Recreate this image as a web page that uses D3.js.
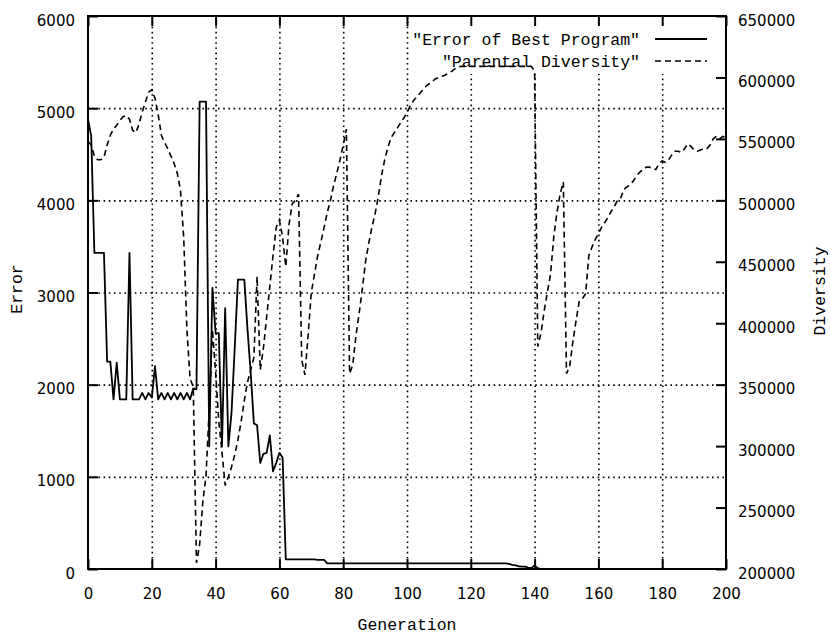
<!DOCTYPE html>
<html lang="en">
<head>
<meta charset="UTF-8"/>
<title>Error of Best Program / Parental Diversity</title>
<script src="https://d3js.org/d3.v7.min.js" charset="utf-8"></script>
<style type="text/css">
    body { margin: 0; background: #fff; }
    svg { display: block; }
    .tick text { font-family: "DejaVu Sans", sans-serif; font-size: 15px; fill: #000; }
    .axis path, .grid path { display: none; }
    .axis line { stroke: #000; stroke-width: 2px; }
    .grid line { stroke: #000; stroke-width: 1.6px; stroke-dasharray: 1.6 3.6; }
    .label { font-family: "Liberation Mono", monospace; font-size: 16.5px; fill: #000; }
    path.error { fill: none; stroke: #000; stroke-width: 1.8px; stroke-linejoin: round; }
    path.diversity { fill: none; stroke: #000; stroke-width: 1.6px; stroke-dasharray: 6 4; }
</style>
</head>
<body>
<svg width="830" height="635"></svg>
<script>

    let generations = d3.range(0, 201);

    let bestError = [
        4880, 4700, 3430, 3430, 3430, 3430, 2250, 2250, 1840, 2240,
        1840, 1840, 1840, 3430, 1840, 1840, 1840, 1910, 1840, 1910,
        1860, 2200, 1840, 1910, 1840, 1910, 1840, 1910, 1840, 1910,
        1840, 1910, 1840, 1960, 1950, 5070, 5070, 5070, 1330, 3050,
        2560, 2560, 1330, 2830, 1330, 1700, 2400, 3140, 3140, 3140,
        2600, 2130, 1580, 1560, 1150, 1250, 1260, 1450, 1060, 1150,
        1260, 1210, 105, 105, 105, 105, 105, 105, 105, 105,
        105, 105, 100, 100, 100, 62, 62, 62, 62, 62,
        62, 62, 62, 62, 62, 62, 62, 62, 62, 62,
        62, 62, 62, 62, 62, 62, 62, 62, 62, 62,
        62, 62, 62, 62, 62, 62, 62, 62, 62, 62,
        62, 62, 62, 62, 62, 62, 62, 62, 62, 62,
        62, 62, 62, 62, 62, 62, 62, 62, 62, 62,
        62, 60, 55, 45, 40, 30, 25, 25, 15, 10,
        40, 10, 0, 0, 0, 0, 0, 0, 0, 0,
        0, 0, 0, 0, 0, 0, 0, 0, 0, 0,
        0, 0, 0, 0, 0, 0, 0, 0, 0, 0,
        0, 0, 0, 0, 0, 0, 0, 0, 0, 0,
        0, 0, 0, 0, 0, 0, 0, 0, 0, 0,
        0, 0, 0, 0, 0, 0, 0, 0, 0, 0,
        0
    ];

    let diversity = [
        548000, 545000, 536000, 533000, 533000, 535000, 545000, 553000, 558000, 561000,
        565000, 568000, 569000, 566000, 557000, 555000, 562000, 572000, 580000, 588000,
        590000, 583000, 570000, 553000, 547000, 542000, 536000, 530000, 522000, 508000,
        470000, 395000, 355000, 348000, 205000, 220000, 255000, 276000, 330000, 395000,
        360000, 320000, 295000, 268000, 275000, 283000, 293000, 305000, 320000, 337000,
        352000, 362000, 372000, 438000, 362000, 380000, 405000, 430000, 455000, 478000,
        484000, 470000, 446000, 480000, 497000, 500000, 505000, 370000, 358000, 390000,
        425000, 440000, 455000, 466000, 478000, 490000, 500000, 512000, 522000, 533000,
        545000, 558000, 359000, 366000, 390000, 408000, 428000, 450000, 465000, 478000,
        489000, 503000, 520000, 533000, 543000, 551000, 555000, 559000, 563000, 567000,
        571000, 577000, 581000, 584000, 587000, 590000, 593000, 595000, 597000, 599000,
        600000, 601000, 602000, 603500, 605000, 607000, 608500, 609000, 609000, 609000,
        609000, 609000, 609000, 609000, 609000, 609000, 609000, 609000, 609000, 609000,
        609000, 609000, 609000, 609000, 609000, 609000, 609000, 609000, 609000, 609000,
        605000, 381000, 392000, 410000, 425000, 440000, 470000, 490000, 505000, 515000,
        359000, 365000, 385000, 402000, 418000, 420000, 424000, 455000, 462000, 468000,
        473000, 478000, 482000, 486000, 491000, 495000, 500000, 502000, 509000, 511000,
        513000, 516000, 520000, 523000, 525000, 527000, 527000, 526000, 525000, 530000,
        532000, 531000, 533000, 537000, 540000, 540000, 539000, 542000, 546000, 544000,
        541000, 540000, 541000, 542000, 542000, 545000, 550000, 552000, 550000, 552000,
        551000
    ];

    let genTicks = [0, 20, 40, 60, 80, 100, 120, 140, 160, 180, 200];
    let errorTicks = [0, 1000, 2000, 3000, 4000, 5000, 6000];
    let diversityTicks = [200000, 250000, 300000, 350000, 400000, 450000, 500000, 550000, 600000, 650000];
    let legendNames = ['"Error of Best Program"', '"Parental Diversity"'];

    let svg = d3.select("svg"),
        plotL = 88, plotR = 726, plotT = 16, plotB = 569;

    let x = d3.scaleLinear().domain([0, 200]).range([plotL, plotR]);
    let y = d3.scaleLinear().domain([0, 6000]).range([plotB, plotT]);
    let y2 = d3.scaleLinear().domain([200000, 650000]).range([plotB, plotT]);

    // dotted grid
    svg.append("g").attr("class", "grid")
        .attr("transform", "translate(0," + plotB + ")")
        .call(d3.axisBottom(x).tickValues(genTicks.slice(1, -1)).tickSize(-(plotB - plotT)).tickFormat(""));
    svg.append("g").attr("class", "grid")
        .attr("transform", "translate(" + plotL + ",0)")
        .call(d3.axisLeft(y).tickValues(errorTicks.slice(1, -1)).tickSize(-(plotR - plotL)).tickFormat(""));

    // key hides the grid behind it
    svg.append("rect")
        .attr("x", 411).attr("y", plotT + 1)
        .attr("width", 306).attr("height", 57)
        .attr("fill", "#fff");

    let errLine = d3.line()
        .x(function(d, i) { return x(generations[i]); })
        .y(function(d) { return y(d); });
    let divLine = d3.line()
        .x(function(d, i) { return x(generations[i]); })
        .y(function(d) { return y2(d); });

    svg.append("path").datum(diversity).attr("class", "diversity").attr("d", divLine);
    svg.append("path").datum(bestError).attr("class", "error").attr("d", errLine);

    // axes, ticks pointing inward
    svg.append("g").attr("class", "axis")
        .attr("transform", "translate(0," + plotB + ")")
        .call(d3.axisBottom(x).tickValues(genTicks).tickSize(-10).tickPadding(19));
    svg.append("g").attr("class", "axis")
        .attr("transform", "translate(0," + plotT + ")")
        .call(d3.axisTop(x).tickValues(genTicks).tickSize(-10).tickFormat(""));
    svg.append("g").attr("class", "axis")
        .attr("transform", "translate(" + plotL + ",0)")
        .call(d3.axisLeft(y).tickValues(errorTicks).tickSize(-10).tickPadding(13).tickFormat(d3.format("d")))
        .selectAll("text").attr("dy", "0.6em");
    svg.append("g").attr("class", "axis")
        .attr("transform", "translate(" + plotR + ",0)")
        .call(d3.axisRight(y2).tickValues(diversityTicks).tickSize(-10).tickPadding(12).tickFormat(d3.format("d")))
        .selectAll("text").attr("dy", "0.6em");

    svg.append("rect")
        .attr("x", plotL).attr("y", plotT)
        .attr("width", plotR - plotL).attr("height", plotB - plotT)
        .attr("fill", "none").attr("stroke", "#000").attr("stroke-width", 2);

    // key
    let key = svg.append("g");
    key.selectAll("text").data(legendNames).enter().append("text")
        .attr("class", "label")
        .attr("x", 640)
        .attr("y", function(d, i) { return 39 + i * 22; })
        .attr("dy", "0.35em")
        .attr("text-anchor", "end")
        .text(function(d) { return d; });
    key.selectAll("line").data(legendNames).enter().append("line")
        .attr("x1", 655).attr("x2", 707)
        .attr("y1", function(d, i) { return 39 + i * 22; })
        .attr("y2", function(d, i) { return 39 + i * 22; })
        .attr("stroke", "#000")
        .attr("stroke-width", function(d, i) { return i ? 1.6 : 1.8; })
        .attr("stroke-dasharray", function(d, i) { return i ? "6 4" : null; });

    // axis titles
    svg.append("text").attr("class", "label")
        .attr("transform", "translate(22,289) rotate(-90)")
        .attr("text-anchor", "middle")
        .text("Error");
    svg.append("text").attr("class", "label")
        .attr("transform", "translate(825,291) rotate(-90)")
        .attr("text-anchor", "middle")
        .text("Diversity");
    svg.append("text").attr("class", "label")
        .attr("x", (plotL + plotR) / 2).attr("y", 630)
        .attr("text-anchor", "middle")
        .text("Generation");

</script>
</body>
</html>
